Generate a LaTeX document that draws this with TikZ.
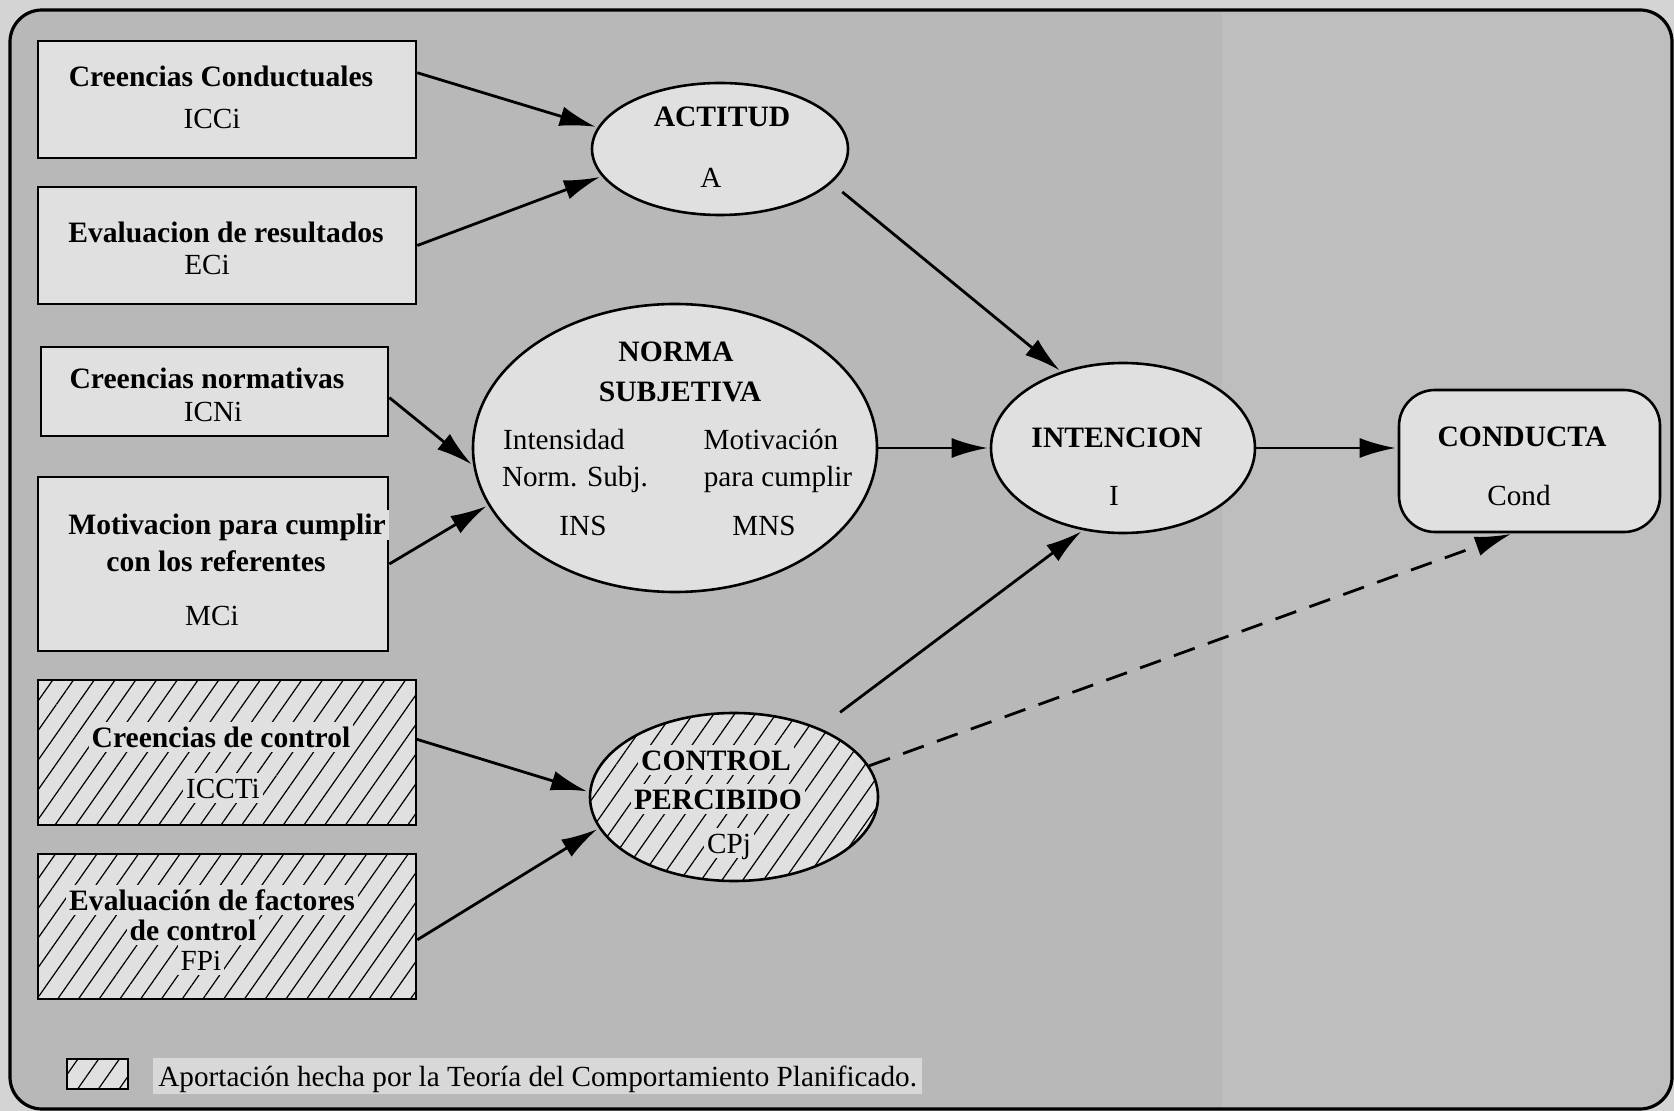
\documentclass[tikz,border=0pt]{standalone}
\usepackage{fontspec}
\setmainfont{Liberation Serif}
\usetikzlibrary{arrows.meta,patterns.meta,shapes.geometric}

\definecolor{paper}{HTML}{D4D4D4}
\definecolor{panel}{HTML}{B8B8B8}
\definecolor{panelhi}{HTML}{BEBEBE}
\definecolor{boxfill}{HTML}{E0E0E0}
\definecolor{keyfill}{HTML}{D8D8D8}

\tikzset{
  varbox/.style={draw, line width=1.3pt, fill=boxfill, inner sep=0pt},
  hatchbox/.style={draw, line width=1.3pt, inner sep=0pt, preaction={fill=boxfill},
    pattern={Lines[angle=55,distance=8.5pt,line width=0.6pt]}},
  var/.style={varbox, ellipse},
  hatchvar/.style={hatchbox, ellipse},
  lbl/.style={font=\fontsize{14.6}{17}\selectfont, fill=boxfill, inner sep=1.5pt,
    text height=11pt, text depth=1pt},
  ttl/.style={lbl, font=\fontsize{14.8}{17.5}\selectfont\bfseries},
  link/.style={-{Latex[length=18pt,width=10pt]}, line width=1.4pt, shorten >=1pt},
}

\begin{document}
\begin{tikzpicture}[x=0.5pt,y=-0.5pt]
  \useasboundingbox[fill=paper] (0,0) rectangle (1674,1111);

  % panel
  \fill[panel, rounded corners=16pt] (10,10) rectangle (1672,1109);
  \begin{scope}
    \clip[rounded corners=16pt] (10,10) rectangle (1672,1109);
    \fill[panelhi] (1222,10) rectangle (1672,1109);
  \end{scope}
  \draw[line width=1.6pt, rounded corners=16pt] (10,10) rectangle (1672,1109);

  % beliefs
  \node[varbox, minimum width=189pt, minimum height=58.5pt] (b1) at (227,99.5) {};
  \node[varbox, minimum width=189pt, minimum height=58.5pt] (b2) at (227,245.5) {};
  \node[varbox, minimum width=173.5pt, minimum height=44.5pt] (b3) at (214.5,391.5) {};
  \node[varbox, minimum width=175pt, minimum height=87pt] (b4) at (213,564) {};
  \node[hatchbox, minimum width=189pt, minimum height=72.5pt] (b5) at (227,752.5) {};
  \node[hatchbox, minimum width=189pt, minimum height=72.5pt] (b6) at (227,926.5) {};

  % components
  \node[var, minimum width=128pt, minimum height=66pt] (act) at (720,149) {};
  \node[var, minimum width=202pt, minimum height=144pt] (norma) at (675,448) {};
  \node[hatchvar, minimum width=144pt, minimum height=84pt] (ctl) at (734,797) {};
  \node[var, minimum width=132pt, minimum height=85pt] (int) at (1123,448) {};
  \node[varbox, rounded corners=18pt, minimum width=130.5pt, minimum height=71pt] (cond) at (1529.5,461) {};

  % titles
  \foreach \x/\y/\t [count=\i] in {221/77/Creencias Conductuales, 226/233/Evaluacion de resultados,
      207/379/Creencias normativas, 227/525/Motivacion para cumplir, 216/562/con los referentes,
      221/737/Creencias de control, 212/900/Evaluación de factores, 193/930/de control,
      722/117/ACTITUD, 676/352/NORMA, 680/392/SUBJETIVA, 716/760/CONTROL, 718/799/PERCIBIDO,
      1117/438/INTENCION, 1522/437/CONDUCTA}
    \node[ttl] (ttl\i) at (\x,\y) {\t};

  % symbols
  \foreach \x/\y/\t [count=\i] in {212/118.5/ICCi, 207/265/ECi, 213/412/ICNi, 212/615/MCi,
      223/788/ICCTi, 201/960/FPi, 711/178/A, 564/440/Intensidad, 575/477/Norm. Subj.,
      583/526/INS, 771/440/Motivación, 778/477/para cumplir, 764/526/MNS, 729/843/CPj,
      1114/496/I, 1519/496/Cond}
    \node[lbl] (sym\i) at (\x,\y) {\t};

  % arrows
  \draw[link] (b1.8) -- (act.170);
  \draw[link] (b2.east) -- (act.193);
  \draw[link] (b3.-2) -- (norma.185);
  \draw[link] (b4.east) -- (norma.197);
  \draw[link] (b5.4) -- (ctl.178);
  \draw[link] (b6.-4) -- (ctl.193);
  \draw[link, shorten <=7pt] (act.-17) -- (int.129);
  \draw[link] (norma.east) -- (int.west);
  \draw[link, shorten <=13pt] (ctl.39) -- (int.244);
  \draw[link] (int.east) -- (int.east -| cond.west);
  \draw[link, dash pattern=on 11pt off 7pt] (ctl.13) -- (cond.257);

  % legend
  \node[hatchbox, minimum width=30.5pt, minimum height=15pt] (key) at (97.5,1074) {};
  \node[lbl, fill=keyfill, anchor=west, inner xsep=2.5pt, inner ysep=3pt] (keytxt) at (153,1076)
    {Aportación hecha por la Teoría del Comportamiento Planificado.};
\end{tikzpicture}
\end{document}
